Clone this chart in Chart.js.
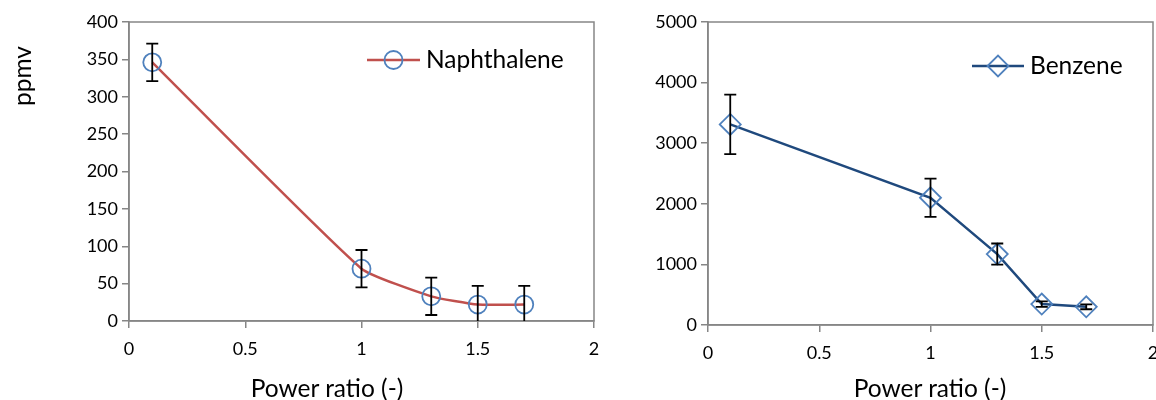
<!DOCTYPE html>
<html lang="en">
<head>
<meta charset="UTF-8">
<title>Naphthalene and benzene vs power ratio</title>
<script src="https://cdn.jsdelivr.net/npm/chart.js"></script>
<style>
    body {
        margin: 0;
        width: 1156px;
        height: 400px;
        overflow: hidden;
        background: #fff;
        position: relative;
        font-family: Lato, sans-serif;
    }
    canvas { position: absolute; top: 0; }
    #naph-chart { left: 0; }
    #benz-chart { left: 600px; }
    .axis-title {
        position: absolute;
        width: 200px;
        height: 28px;
        font-size: 24.5px;
        line-height: 28px;
        text-align: center;
        color: #000;
        white-space: nowrap;
    }
    /* rotated box: centre sits at (left + 100, top + 14) */
    .y-title { transform: rotate(-90deg); }
</style>
</head>
<body>
<canvas id="naph-chart" width="620" height="400"></canvas>
<canvas id="benz-chart" width="580" height="400"></canvas>
<div class="axis-title y-title" style="left:-78px; top:62px;">ppmv</div>
<div class="axis-title" style="left:227px; top:374px;">Power ratio (-)</div>
<div class="axis-title" style="left:830px; top:374px;">Power ratio (-)</div>

<script>
    // measured concentrations (mean and error) at each power ratio
    const powerRatio = [0.1, 1.0, 1.3, 1.5, 1.7];
    const naphthalene = [346, 70, 33, 22, 22];
    const naphthaleneErr = [25, 25, 25, 25, 25];
    const benzene = [3310, 2100, 1170, 345, 300];
    const benzeneErr = [490, 315, 175, 45, 40];

    const xTicks = [0, 0.5, 1, 1.5, 2];
    const naphTicks = [0, 50, 100, 150, 200, 250, 300, 350, 400];
    const benzTicks = [0, 1000, 2000, 3000, 4000, 5000];

    const AXIS_GREY = '#868686';
    const TICK_FONT = { family: 'Lato', size: 18 };

    function toPoints(ys) {
        return powerRatio.map((x, i) => ({ x: x, y: ys[i] }));
    }

    // grey frame around the plot area (Excel style)
    const plotFrame = {
        id: 'plotFrame',
        beforeDatasetsDraw(chart) {
            const { ctx, chartArea: a } = chart;
            ctx.save();
            ctx.strokeStyle = AXIS_GREY;
            ctx.lineWidth = 1.5;
            ctx.strokeRect(a.left, a.top, a.right - a.left, a.bottom - a.top);
            ctx.restore();
        }
    };

    // vertical error bars with caps, taken from dataset.errorBars
    const errorBars = {
        id: 'errorBars',
        afterDatasetsDraw(chart) {
            const { ctx, chartArea: a, scales } = chart;
            ctx.save();
            ctx.beginPath();
            ctx.rect(a.left, a.top, a.right - a.left, a.bottom - a.top);
            ctx.clip();
            ctx.strokeStyle = '#000';
            ctx.lineWidth = 1.8;
            chart.data.datasets.forEach(ds => {
                if (!ds.errorBars) return;
                ds.data.forEach((p, i) => {
                    const e = ds.errorBars[i];
                    const x = scales.x.getPixelForValue(p.x);
                    const yHi = scales.y.getPixelForValue(p.y + e);
                    const yLo = scales.y.getPixelForValue(p.y - e);
                    ctx.beginPath();
                    ctx.moveTo(x, yHi); ctx.lineTo(x, yLo);
                    ctx.moveTo(x - 6, yHi); ctx.lineTo(x + 6, yHi);
                    ctx.moveTo(x - 6, yLo); ctx.lineTo(x + 6, yLo);
                    ctx.stroke();
                });
            });
            ctx.restore();
        }
    };

    function drawMarker(ctx, style, x, y, r) {
        ctx.beginPath();
        if (style === 'rectRot') {
            ctx.moveTo(x - r, y); ctx.lineTo(x, y - r);
            ctx.lineTo(x + r, y); ctx.lineTo(x, y + r);
            ctx.closePath();
        } else {
            ctx.arc(x, y, r, 0, Math.PI * 2);
        }
        ctx.stroke();
    }

    // legend entry drawn inside the plot: line with marker, then label
    const inlineLegend = {
        id: 'inlineLegend',
        afterDraw(chart, args, opts) {
            const ds = chart.data.datasets[0];
            const ctx = chart.ctx;
            const { x, y, lineLength } = opts;
            ctx.save();
            ctx.strokeStyle = ds.borderColor;
            ctx.lineWidth = ds.borderWidth;
            ctx.beginPath();
            ctx.moveTo(x, y); ctx.lineTo(x + lineLength, y);
            ctx.stroke();
            ctx.strokeStyle = ds.pointBorderColor;
            ctx.lineWidth = ds.pointBorderWidth;
            drawMarker(ctx, ds.pointStyle, x + lineLength / 2, y, ds.pointRadius);
            ctx.fillStyle = '#000';
            ctx.font = opts.font;
            ctx.textBaseline = 'middle';
            ctx.textAlign = 'left';
            ctx.fillText(ds.label, x + lineLength + 6, y);
            ctx.restore();
        }
    };

    function makeChart(id, dataset, yTicks, box) {
        return new Chart(document.getElementById(id), {
            type: 'line',
            data: { datasets: [dataset] },
            plugins: [plotFrame, errorBars, inlineLegend],
            options: {
                responsive: false,
                animation: false,
                layout: { padding: { top: 22, right: box.right, left: 0, bottom: 0 } },
                plugins: {
                    legend: { display: false },
                    tooltip: { enabled: false },
                    inlineLegend: box.legend
                },
                scales: {
                    x: {
                        type: 'linear',
                        min: 0,
                        max: 2,
                        afterBuildTicks: s => { s.ticks = xTicks.map(v => ({ value: v })); },
                        afterFit: s => { s.height = box.xHeight; },
                        grid: { drawOnChartArea: false, tickLength: 7, color: AXIS_GREY, lineWidth: 1.5 },
                        border: { color: AXIS_GREY, width: 1.5 },
                        ticks: { color: '#000', font: TICK_FONT, padding: 10, maxRotation: 0, callback: v => String(v) }
                    },
                    y: {
                        min: 0,
                        max: yTicks[yTicks.length - 1],
                        afterBuildTicks: s => { s.ticks = yTicks.map(v => ({ value: v })); },
                        afterFit: s => { s.width = box.yWidth; },
                        grid: { drawOnChartArea: false, tickLength: 7, color: AXIS_GREY, lineWidth: 1.5 },
                        border: { color: AXIS_GREY, width: 1.5 },
                        ticks: { color: '#000', font: TICK_FONT, padding: 4, callback: v => String(v) }
                    }
                }
            }
        });
    }

    makeChart('naph-chart', {
        label: 'Naphthalene',
        data: toPoints(naphthalene),
        errorBars: naphthaleneErr,
        borderColor: '#C0504D',
        borderWidth: 2.5,
        tension: 0.15,
        pointStyle: 'circle',
        pointRadius: 9,
        pointBorderWidth: 1.8,
        pointBorderColor: '#4F81BD',
        pointBackgroundColor: 'rgba(0,0,0,0)'
    }, naphTicks, {
        right: 26, yWidth: 129, xHeight: 79,
        legend: { x: 367, y: 60, lineLength: 53, font: '24.5px Lato' }
    });

    makeChart('benz-chart', {
        label: 'Benzene',
        data: toPoints(benzene),
        errorBars: benzeneErr,
        borderColor: '#1F497D',
        borderWidth: 2.5,
        tension: 0,
        pointStyle: 'rectRot',
        pointRadius: 10.5,
        pointBorderWidth: 1.8,
        pointBorderColor: '#4F81BD',
        pointBackgroundColor: 'rgba(0,0,0,0)'
    }, benzTicks, {
        right: 27, yWidth: 108, xHeight: 75,
        legend: { x: 372, y: 66, lineLength: 52, font: '24.5px Lato' }
    });
</script>
</body>
</html>
